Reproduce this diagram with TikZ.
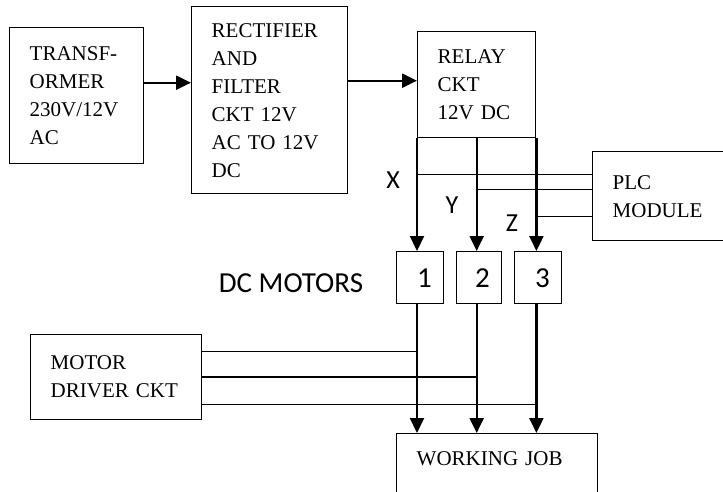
\documentclass[tikz,border=0pt]{standalone}
\usepackage{fontspec}
\setmainfont{Liberation Serif}
\newfontfamily\calibri{Carlito}
\usetikzlibrary{arrows.meta}

\begin{document}
\begin{tikzpicture}[x=1pt, y=-1pt, >={Triangle[length=15pt,width=14pt]},
    block/.style={draw, rectangle, line width=1.4pt, anchor=north west, align=left, inner xsep=20pt, font=\fontsize{21}{28}\selectfont},
    motor/.style={draw, rectangle, line width=1.4pt, anchor=north west, align=right, inner xsep=12pt, minimum height=52pt, font=\calibri\fontsize{29}{34}\selectfont},
    tag/.style={font=\calibri\fontsize{26}{30}\selectfont},
    wire/.style={line width=1.5pt},
    feed/.style={->, line width=2.2pt}]

    \clip (0,0) rectangle (723,492);

    % Nodes
    \node[block, text width=94pt, minimum height=136pt] (trans) at (9,27) {TRANSF-\\ORMER\\230V/12V\\AC};
    \node[block, text width=116pt, minimum height=187pt] (rect) at (191,6) {RECTIFIER\\AND\\FILTER\\CKT 12V\\AC TO 12V\\DC};
    \node[block, text width=78pt, minimum height=106pt] (relay) at (417,31) {RELAY\\CKT\\12V DC};
    \node[block, text width=103pt, minimum height=89pt] (plc) at (592,151) {PLC\\MODULE};
    \node[block, text width=131pt, minimum height=85pt] (drv) at (30,334) {MOTOR\\DRIVER CKT};
    \node[block, text width=161pt, inner ysep=18pt, text height=14pt, text depth=40pt] (job) at (396,433) {WORKING JOB};

    \node[motor, text width=23pt] (m1) at (396,251) {1};
    \node[motor, text width=21pt] (m2) at (456,251) {2};
    \node[motor, text width=23pt] (m3) at (514,251) {3};

    \node[tag, font=\calibri\fontsize{29}{34}\selectfont] (dcm) at (291,283) {DC MOTORS};
    \node[tag] (xlab) at (393,180) {X};
    \node[tag] (ylab) at (452,205) {Y};
    \node[tag] (zlab) at (512,223) {Z};

    \coordinate (tapx) at ([yshift=-36pt]relay.south west);
    \coordinate (tapy) at ([yshift=-51pt]relay.south);
    \coordinate (tapz) at ([yshift=-78pt]relay.south east);

    % Paths
    \draw[feed] ([yshift=13pt]trans.east) -- ([yshift=13pt]trans.east -| rect.west);
    \draw[feed] ([yshift=19.5pt]rect.east) -- ([yshift=19.5pt]rect.east -| relay.west);

    \draw[feed] (relay.south west) -- (relay.south west |- m1.north);
    \draw[feed] (relay.south) -- (relay.south |- m2.north);
    \draw[feed] (relay.south east) -- (relay.south east |- m3.north);

    \draw[wire] (tapx) -- (tapx -| plc.west);
    \draw[wire] (tapy) -- (tapy -| plc.west);
    \draw[wire] (tapz) -- (tapz -| plc.west);

    \draw[feed] (relay.south west |- m1.south) -- (relay.south west |- job.north);
    \draw[feed] (relay.south |- m2.south) -- (relay.south |- job.north);
    \draw[feed] (relay.south east |- m3.south) -- (relay.south east |- job.north);

    \draw[wire] ([yshift=25.5pt]drv.east) -- ([yshift=25.5pt]drv.east -| relay.south west);
    \draw[wire] (drv.east) -- (drv.east -| relay.south);
    \draw[wire] ([yshift=-27.5pt]drv.east) -- ([yshift=-27.5pt]drv.east -| relay.south east);
\end{tikzpicture}
\end{document}
